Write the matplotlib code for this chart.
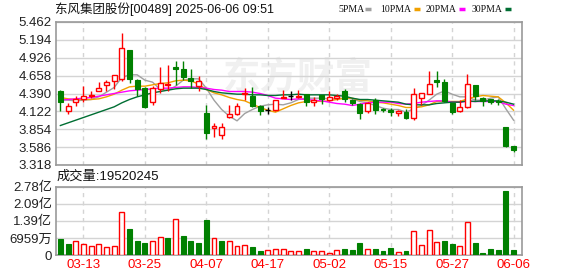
import numpy as np
import matplotlib.pyplot as plt
from matplotlib.lines import Line2D

plt.rcParams['font.family'] = ['Liberation Sans', 'Noto Sans CJK SC', 'DejaVu Sans']

# ============================
# Data
# ============================
dates = ['03-10', '03-11', '03-12', '03-13', '03-14', '03-17', '03-18', '03-19', '03-20', '03-21',
         '03-24', '03-25', '03-26', '03-27', '03-28', '03-31', '04-01', '04-02', '04-03', '04-07',
         '04-08', '04-09', '04-10', '04-11', '04-14', '04-15', '04-16', '04-17', '04-22', '04-23',
         '04-24', '04-25', '04-28', '04-29', '04-30', '05-02', '05-06', '05-07', '05-08', '05-09',
         '05-12', '05-13', '05-14', '05-15', '05-16', '05-19', '05-20', '05-21', '05-22', '05-23',
         '05-26', '05-27', '05-28', '05-29', '05-30', '06-02', '06-03', '06-04', '06-05', '06-06']

open_ = [4.42, 4.13, 4.26, 4.31, 4.35, 4.42, 4.51, 4.57, 4.60, 5.04,
         4.59, 4.47, 4.27, 4.45, 4.51, 4.78, 4.75, 4.62, 4.50, 4.10,
         3.88, 3.77, 4.04, 4.08, 4.38, 4.35, 4.20, 4.14, 4.14, 4.32,
         4.35, 4.34, 4.38, 4.27, 4.37, 4.30, 4.33, 4.42, 4.30, 4.23,
         4.13, 4.29, 4.16, 4.14, 4.10, 4.12, 4.02, 4.33, 4.38, 4.59,
         4.56, 4.25, 4.13, 4.19, 4.52, 4.32, 4.31, 4.28, 3.89, 3.61]
high = [4.44, 4.25, 4.35, 4.50, 4.43, 4.56, 4.59, 4.66, 5.30, 5.04,
        4.60, 4.49, 4.50, 4.79, 4.82, 4.87, 4.88, 4.75, 4.65, 4.22,
        3.95, 3.95, 4.22, 4.25, 4.47, 4.49, 4.22, 4.19, 4.30, 4.44,
        4.42, 4.44, 4.39, 4.34, 4.37, 4.43, 4.38, 4.46, 4.31, 4.25,
        4.27, 4.32, 4.17, 4.18, 4.14, 4.16, 4.47, 4.40, 4.73, 4.72,
        4.60, 4.25, 4.29, 4.68, 4.52, 4.34, 4.31, 4.31, 3.89, 3.61]
low = [4.13, 4.09, 4.21, 4.27, 4.33, 4.42, 4.43, 4.46, 4.58, 4.54,
       4.35, 4.17, 4.22, 4.40, 4.42, 4.52, 4.59, 4.47, 4.42, 3.71,
       3.74, 3.71, 4.02, 4.07, 4.29, 4.19, 4.07, 4.09, 4.13, 4.32,
       4.30, 4.33, 4.20, 4.20, 4.24, 4.28, 4.30, 4.27, 4.22, 4.01,
       4.10, 4.09, 4.11, 4.05, 4.06, 4.01, 4.00, 4.22, 4.38, 4.49,
       4.27, 4.08, 4.12, 4.18, 4.29, 4.20, 4.24, 4.22, 3.59, 3.51]
close = [4.27, 4.20, 4.31, 4.35, 4.37, 4.47, 4.56, 4.66, 5.07, 4.60,
         4.45, 4.19, 4.47, 4.54, 4.53, 4.76, 4.63, 4.58, 4.57, 3.80,
         3.90, 3.89, 4.08, 4.21, 4.40, 4.20, 4.13, 4.14, 4.29, 4.34,
         4.35, 4.36, 4.26, 4.30, 4.31, 4.34, 4.36, 4.31, 4.25, 4.10,
         4.25, 4.15, 4.14, 4.12, 4.13, 4.02, 4.38, 4.39, 4.53, 4.56,
         4.28, 4.12, 4.19, 4.53, 4.35, 4.28, 4.27, 4.26, 3.61, 3.54]
prev_close = 4.33

# volume in shares
volume = [65e6, 45e6, 56e6, 45e6, 35e6, 45e6, 31e6, 35e6, 174e6, 106e6,
          57e6, 49e6, 56e6, 72e6, 69e6, 145e6, 77e6, 57e6, 49e6, 143e6,
          68e6, 57e6, 57e6, 37e6, 39e6, 33e6, 16e6, 20e6, 23e6, 23e6,
          16e6, 16e6, 24e6, 16e6, 16e6, 10e6, 20e6, 24e6, 22e6, 49e6,
          24e6, 24e6, 18e6, 29e6, 12e6, 18e6, 98e6, 41e6, 102e6, 53e6,
          57e6, 45e6, 37e6, 134e6, 49e6, 10e6, 24e6, 20e6, 261e6, 19520245]

ma5 = [4.30, 4.29, 4.28, 4.29, 4.30, 4.34, 4.41, 4.48, 4.63, 4.67,
       4.67, 4.59, 4.56, 4.45, 4.44, 4.50, 4.59, 4.61, 4.61, 4.47,
       4.29, 4.15, 4.05, 3.98, 4.09, 4.15, 4.20, 4.22, 4.23, 4.22,
       4.25, 4.30, 4.32, 4.32, 4.32, 4.31, 4.31, 4.32, 4.31, 4.27,
       4.25, 4.21, 4.17, 4.15, 4.15, 4.11, 4.16, 4.21, 4.29, 4.38,
       4.43, 4.38, 4.34, 4.34, 4.29, 4.29, 4.32, 4.34, 4.16, 3.99]
ma10 = [4.33, 4.31, 4.30, 4.30, 4.30, 4.31, 4.34, 4.38, 4.44, 4.49,
        4.50, 4.50, 4.52, 4.54, 4.55, 4.58, 4.59, 4.58, 4.53, 4.45,
        4.40, 4.37, 4.33, 4.30, 4.28, 4.23, 4.18, 4.14, 4.11, 4.16,
        4.21, 4.25, 4.27, 4.28, 4.27, 4.28, 4.30, 4.32, 4.32, 4.29,
        4.28, 4.26, 4.25, 4.23, 4.21, 4.18, 4.18, 4.19, 4.22, 4.27,
        4.27, 4.27, 4.27, 4.31, 4.34, 4.36, 4.35, 4.34, 4.25, 4.14]
ma20 = [4.29, 4.30, 4.31, 4.32, 4.33, 4.35, 4.37, 4.39, 4.41, 4.43,
        4.44, 4.45, 4.46, 4.47, 4.47, 4.48, 4.49, 4.49, 4.48, 4.47,
        4.45, 4.44, 4.42, 4.42, 4.42, 4.41, 4.39, 4.36, 4.32, 4.31,
        4.30, 4.31, 4.30, 4.29, 4.28, 4.26, 4.24, 4.23, 4.21, 4.23,
        4.25, 4.26, 4.26, 4.26, 4.24, 4.23, 4.24, 4.26, 4.27, 4.28,
        4.28, 4.26, 4.26, 4.27, 4.27, 4.27, 4.27, 4.27, 4.23, 4.21]
ma30 = [3.91, 3.95, 3.99, 4.03, 4.07, 4.11, 4.15, 4.19, 4.25, 4.30,
        4.34, 4.37, 4.40, 4.42, 4.44, 4.46, 4.47, 4.47, 4.47, 4.45,
        4.42, 4.40, 4.39, 4.38, 4.38, 4.37, 4.37, 4.36, 4.36, 4.37,
        4.37, 4.38, 4.37, 4.37, 4.37, 4.37, 4.36, 4.35, 4.32, 4.30,
        4.30, 4.29, 4.28, 4.27, 4.26, 4.23, 4.22, 4.22, 4.22, 4.24,
        4.25, 4.26, 4.26, 4.28, 4.27, 4.28, 4.28, 4.28, 4.26, 4.23]

price_ticks = [3.318, 3.586, 3.854, 4.122, 4.390, 4.658, 4.926, 5.194, 5.462]
vol_ticks = [0, 69.59e6, 139.18e6, 208.77e6, 278.36e6]
vol_tick_labels = ['0', '6959万', '1.39亿', '2.09亿', '2.78亿']
date_tick_idx = [3, 11, 19, 27, 35, 43, 51, 59]
legend_names = ['5PMA', '10PMA', '20PMA', '30PMA']

# ============================
# Styles
# ============================
RED = '#ff0000'
GREEN = '#008000'
GRID = '#d4d4d4'
FRAME = '#999999'
ma_colors = ['#a0a0a0', '#f0a000', '#ff00ff', '#006e33']

W, H = 578, 276
fig = plt.figure(figsize=(W / 100, H / 100), dpi=100)

def frac(x0, y0, x1, y1):
    return [x0 / W, 1 - y1 / H, (x1 - x0) / W, (y1 - y0) / H]

ax = fig.add_axes(frac(56, 22, 522, 165))
axv = fig.add_axes(frac(56, 186.7, 522, 255))

x = np.arange(len(dates))
xlim = (-0.57, 60.1)
bw = 0.64

# ----- price panel -----
for i in x:
    o, h, l, c = open_[i], high[i], low[i], close[i]
    if c > o:
        col = RED
    elif c < o:
        col = GREEN
    else:
        col = 'black'
    ax.vlines(i, l, h, color=col, linewidth=1, zorder=3)
    if c > o:
        ax.bar(i, c - o, bottom=o, width=bw, facecolor='white', edgecolor=col,
               linewidth=1, zorder=4)
    elif c < o:
        ax.bar(i, o - c, bottom=c, width=bw, facecolor=col, edgecolor=col,
               linewidth=0.8, zorder=4)
    else:
        ax.hlines(c, i - bw / 2, i + bw / 2, color=col, linewidth=1, zorder=4)

for ma, mc in zip([ma5, ma10, ma20, ma30], ma_colors):
    ax.plot(x, ma, color=mc, linewidth=1, zorder=2)

# faint watermark
ax.text(0.52, 0.61, '东方财富', transform=ax.transAxes, fontsize=27,
        color='#f0f0f0', ha='center', va='center', zorder=0,
        family=['Noto Sans CJK SC'], fontweight='bold')

ax.set_xlim(*xlim)
ax.set_ylim(price_ticks[0], price_ticks[-1])
ax.set_yticks(price_ticks)
ax.set_yticklabels(['%.3f' % t for t in price_ticks], fontsize=9.5, color='#222222')
ax.set_xticks(date_tick_idx)
ax.set_xticklabels([])
ax.grid(axis='y', color=GRID, linewidth=1)
ax.grid(axis='x', color=GRID, linewidth=1, linestyle=(0, (3, 3)))
ax.set_axisbelow(True)

# ----- volume panel -----
prev = [prev_close] + close[:-1]
for i in x:
    if close[i] > prev[i]:
        axv.bar(i, volume[i], width=bw, facecolor='white', edgecolor=RED,
                linewidth=1, zorder=3)
    else:
        axv.bar(i, volume[i], width=bw, facecolor=GREEN, edgecolor=GREEN,
                linewidth=0.8, zorder=3)

axv.set_xlim(*xlim)
axv.set_ylim(0, vol_ticks[-1])
axv.set_yticks(vol_ticks)
axv.set_yticklabels(vol_tick_labels, fontsize=9.5, color='#222222')
axv.set_xticks(date_tick_idx)
axv.set_xticklabels([dates[i] for i in date_tick_idx], fontsize=9.5, color=RED)
axv.grid(axis='y', color=GRID, linewidth=1)
axv.grid(axis='x', color=GRID, linewidth=1, linestyle=(0, (3, 3)))
axv.set_axisbelow(True)

for a in (ax, axv):
    a.tick_params(length=0, pad=3)
    for s in a.spines.values():
        s.set_color(FRAME)
        s.set_linewidth(1.2)

# ----- header texts -----
fig.text(55 / W, 1 - 9 / H, '东风集团股份[00489] 2025-06-06 09:51', fontsize=9,
         va='center', ha='left', color='#111111')
fig.text(57 / W, 1 - 177 / H, '成交量:19520245', fontsize=9.5, va='center', ha='left',
         color='#111111')

# legend: label then a short colour dash
label_x = [338, 380, 426, 472]
dash_x = [365, 414, 459, 505]
for name, lx, dx, mc in zip(legend_names, label_x, dash_x, ma_colors):
    fig.text(lx / W, 1 - 9 / H, name, fontsize=7, va='center', ha='left',
             family=['Liberation Serif'], color='#111111')
    fig.add_artist(Line2D([dx / W, (dx + 6) / W], [1 - 8.5 / H, 1 - 8.5 / H],
                          color=mc, linewidth=2.5, solid_capstyle='butt'))

fig.savefig('out.png', dpi=100)
